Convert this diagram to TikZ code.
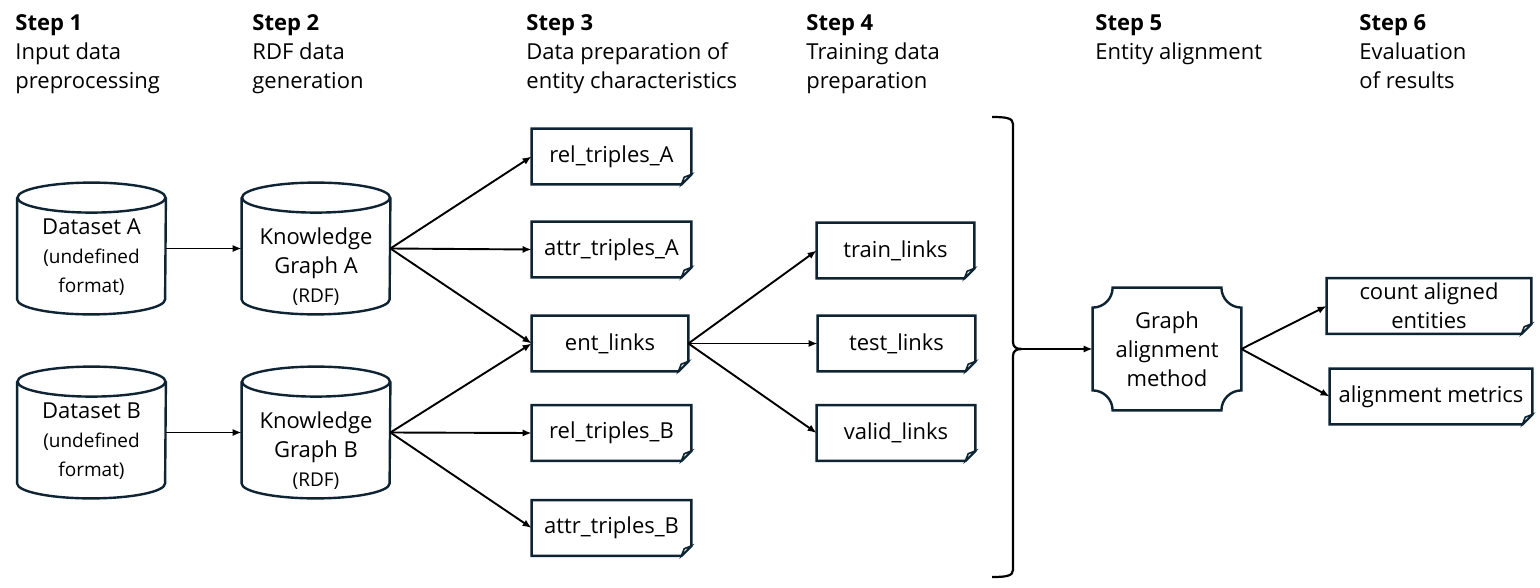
\documentclass[tikz,border=0pt]{standalone}
\usepackage{fontspec}
\setmainfont{Open Sans}
\usetikzlibrary{arrows.meta}
\definecolor{navy}{HTML}{0E2433}
\newcommand\mynf{\fontsize{11}{14.5}\selectfont}
\newcommand\mysmallf{\fontsize{9.5}{12.5}\selectfont}
\newcommand\docshape[1]{%
  \draw[outl] (#1.north west) -- (#1.north east) -- ([yshift=5pt]#1.south east) -- ([xshift=-5pt]#1.south east) -- (#1.south west) -- cycle;
  \draw[outl, line width=0.8pt, fill=white] ([yshift=5pt]#1.south east) -- ([xshift=-5pt]#1.south east) -- ([xshift=-3.6pt,yshift=3.6pt]#1.south east) -- cycle;}
\newcommand\cylshape[1]{%
  \draw[outl] ([yshift=-7.5pt]#1.north west) -- ([yshift=7.5pt]#1.south west) arc[start angle=180,end angle=360,x radius=37pt,y radius=7.5pt] -- ([yshift=-7.5pt]#1.north east);
  \draw[outl] ([yshift=-7.5pt]#1.north) ellipse[x radius=37pt, y radius=7.5pt];}
\newcommand\plaqueshape[1]{%
  \draw[outl] ([xshift=10pt]#1.north west) -- ([xshift=-10pt]#1.north east) arc[start angle=180,end angle=270,radius=10pt]
   -- ([yshift=10pt]#1.south east) arc[start angle=90,end angle=180,radius=10pt]
   -- ([xshift=10pt]#1.south west) arc[start angle=0,end angle=90,radius=10pt]
   -- ([yshift=-10pt]#1.north west) arc[start angle=270,end angle=360,radius=10pt] -- cycle;}
\begin{document}
\begin{tikzpicture}[x=0.5pt,y=-0.5pt,
  outl/.style={draw=navy, line width=1.2pt, line join=miter},
  arr/.style={-{Latex[length=4.5pt,width=3.6pt]}, line width=0.95pt, draw=black},
  brace/.style={draw=black, line width=1.1pt},
  head/.style={anchor=north west, align=left, inner sep=0, font=\mynf},
  box/.style={inner sep=0, align=center, font=\mynf},
  doc/.style={box, minimum height=27.5pt},
  cyl/.style={box, minimum width=74pt, minimum height=65.5pt},
  txt/.style={inner sep=0, align=center, font=\mynf}]
\useasboundingbox[fill=white] (0,0) rectangle (1540,588);

% headings
\node[head] (h1) at (15,14.5) {\textbf{Step 1}\\Input data\\preprocessing};
\node[head] (h2) at (252,14.5) {\textbf{Step 2}\\RDF data\\generation};
\node[head] (h3) at (526,14.5) {\textbf{Step 3}\\Data preparation of\\entity characteristics};
\node[head] (h4) at (806,14.5) {\textbf{Step 4}\\Training data\\preparation};
\node[head] (h5) at (1095,14.5) {\textbf{Step 5}\\Entity alignment};
\node[head] (h6) at (1359,14.5) {\textbf{Step 6}\\Evaluation\\of results};

% cylinders
\node[cyl] (dsA) at (91.5,248.5) {};
\node[cyl] (kgA) at (316,248.5) {};
\node[cyl] (dsB) at (91.5,432.5) {};
\node[cyl] (kgB) at (316,432.5) {};
\cylshape{dsA}\cylshape{kgA}\cylshape{dsB}\cylshape{kgB}
\node[txt] (dsAt) at (91.5,257) {Dataset A\\{\mysmallf (undefined}\\{\mysmallf format)}};
\node[txt] (dsBt) at (91.5,441) {Dataset B\\{\mysmallf (undefined}\\{\mysmallf format)}};
\node[txt] (kgAt) at (316,267) {Knowledge\\Graph A\\{\mysmallf (RDF)}};
\node[txt] (kgBt) at (316,451) {Knowledge\\Graph B\\{\mysmallf (RDF)}};

% documents
\node[doc, minimum width=79.5pt] (relA) at (611.5,156.5) {rel\_triples\_A};
\node[doc, minimum width=79.5pt] (attrA) at (611.5,249.5) {attr\_triples\_A};
\node[doc, minimum width=78pt] (ent) at (610,343.5) {ent\_links};
\node[doc, minimum width=79.5pt] (relB) at (611.5,433) {rel\_triples\_B};
\node[doc, minimum width=79.5pt] (attrB) at (611.5,528) {attr\_triples\_B};
\node[doc, minimum width=78.5pt] (train) at (895.5,250.5) {train\_links};
\node[doc, minimum width=78.5pt] (test) at (896.5,343.5) {test\_links};
\node[doc, minimum width=79pt] (valid) at (896,433) {valid\_links};
\node[doc, minimum width=102pt] (count) at (1429,306) {count aligned\\entities};
\node[doc, minimum width=101pt] (metrics) at (1431,396.5) {alignment metrics};
\docshape{relA}\docshape{attrA}\docshape{ent}\docshape{relB}\docshape{attrB}
\docshape{train}\docshape{test}\docshape{valid}\docshape{count}\docshape{metrics}

% graph alignment method
\node[box, minimum width=74pt, minimum height=61pt] (G) at (1167,349) {Graph\\alignment\\method};
\plaqueshape{G}

% brace
\coordinate (btip) at (1022,349);
\draw[brace] (992,117) .. controls (1006,117) and (1013,118) .. (1013,124) -- (1013,342)
  .. controls (1013,347) and (1016,349) .. (btip)
  .. controls (1016,349) and (1013,351) .. (1013,356) -- (1013,570)
  .. controls (1013,576) and (1006,577) .. (992,577);

% connectors
\draw[arr] (dsA.east) -- (kgA.west);
\draw[arr] (dsB.east) -- (kgB.west);
\draw[arr] (kgA.east) -- (relA.west);
\draw[arr] (kgA.east) -- (attrA.west);
\draw[arr] (kgA.east) -- (ent.west);
\draw[arr] (kgB.east) -- (ent.west);
\draw[arr] (kgB.east) -- (relB.west);
\draw[arr] (kgB.east) -- (attrB.west);
\draw[arr] (ent.east) -- (train.west);
\draw[arr] (ent.east) -- (test.west);
\draw[arr] (ent.east) -- (valid.west);
\draw[arr] (btip) -- (G.west);
\draw[arr] (G.east) -- (count.west);
\draw[arr] (G.east) -- (metrics.west);
\end{tikzpicture}
\end{document}
